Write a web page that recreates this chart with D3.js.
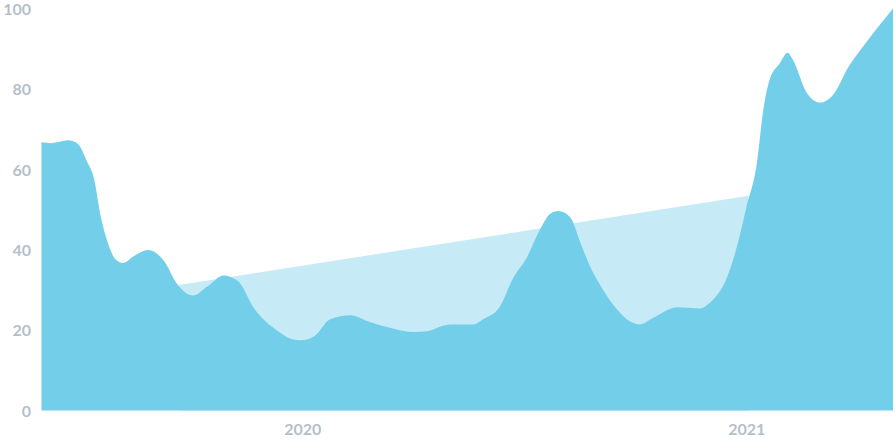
<!DOCTYPE html>
<html>
<head>
<meta charset="utf-8">
<script src="https://cdn.jsdelivr.net/npm/d3@7"></script>
<style>
  html, body { margin: 0; padding: 0; background: #ffffff; }
  svg { display: block; }
  .tick text { font-family: Lato, "Open Sans", sans-serif; font-weight: 700; fill: #b4bfcc; }
</style>
</head>
<body>
<svg id="chart" width="896" height="448"></svg>
<script>
// ---- data ----
const dates = [
  "2019-05-31","2019-06-08","2019-06-22","2019-06-30","2019-07-08","2019-07-13","2019-07-19","2019-07-25",
  "2019-07-31","2019-08-06","2019-08-15","2019-08-27","2019-09-09","2019-09-20","2019-10-03","2019-10-15",
  "2019-10-28","2019-11-09","2019-11-22","2019-12-12","2019-12-23","2019-12-31","2020-01-11","2020-01-24",
  "2020-02-10","2020-02-24","2020-03-14","2020-04-02","2020-04-13","2020-04-24","2020-05-02","2020-05-21",
  "2020-05-29","2020-06-12","2020-06-23","2020-07-04","2020-07-15","2020-07-23","2020-07-30","2020-08-09",
  "2020-08-17","2020-08-25","2020-09-04","2020-09-16","2020-09-27","2020-10-05","2020-10-16","2020-11-05",
  "2020-11-24","2020-12-02","2020-12-16","2020-12-24","2021-01-01","2021-01-10","2021-01-15","2021-01-20",
  "2021-01-29","2021-02-04","2021-02-08","2021-02-20","2021-03-03","2021-03-13","2021-03-27","2021-04-10",
  "2021-05-02"
];
const values = [
  66.7, 66.5, 67.2, 66.3, 61.6, 58.0, 48.0, 41.4,
  37.6, 36.7, 38.4, 39.9, 37.2, 31.4, 28.6, 30.9,
  33.6, 32.2, 25.5, 19.7, 17.8, 17.5, 18.5, 22.7,
  23.7, 22.2, 20.5, 19.5, 19.7, 20.9, 21.4, 21.4,
  22.7, 25.9, 33.0, 38.0, 45.0, 48.8, 49.6, 48.0,
  42.0, 36.0, 30.5, 25.3, 22.2, 21.4, 23.0, 25.7,
  25.4, 26.8, 33.0, 40.4, 50.4, 62.0, 74.6, 82.0,
  86.5, 89.0, 87.5, 79.0, 76.6, 78.3, 85.8, 91.6,
  100
];
const trendDates = ["2019-09-21", "2021-01-03"];
const trendValues = [31.2, 53.4];
const yTicks = [0, 20, 40, 60, 80, 100];
const xTickDates = ["2020-01-01", "2021-01-01"];
const xTickLabels = ["2020", "2021"];

// ---- drawing ----
const parse = d3.utcParse("%Y-%m-%d");
const svg = d3.select("#chart");

const x = d3.scaleUtc()
  .domain([parse("2019-05-31"), parse("2021-05-02")])
  .range([41.5, 893]);
const y = d3.scaleLinear().domain([0, 100]).range([410.5, 8.5]);

const series = dates.map((d, i) => ({ date: parse(d), value: values[i] }));
const trend = trendDates.map((d, i) => ({ date: parse(d), value: trendValues[i] }));

svg.append("path")
  .datum(trend)
  .attr("fill", "#c7ebf6")
  .attr("d", d3.area()
    .x(d => x(d.date))
    .y0(y(0))
    .y1(d => y(d.value))
    .curve(d3.curveLinear));

svg.append("path")
  .datum(series)
  .attr("fill", "#72cee9")
  .attr("d", d3.area()
    .x(d => x(d.date))
    .y0(y(0))
    .y1(d => y(d.value))
    .curve(d3.curveMonotoneX));

const yAxis = d3.axisLeft(y)
  .tickValues(yTicks)
  .tickSize(0)
  .tickPadding(0);
svg.append("g")
  .attr("transform", "translate(31,0)")
  .call(yAxis)
  .call(g => g.select(".domain").remove())
  .selectAll("text")
  .attr("font-size", 16)
  .attr("dy", "0.36em");

const xAxis = d3.axisBottom(x)
  .tickValues(xTickDates.map(parse))
  .tickFormat((d, i) => xTickLabels[i])
  .tickSize(0)
  .tickPadding(0);
svg.append("g")
  .attr("transform", "translate(0,429)")
  .call(xAxis)
  .call(g => g.select(".domain").remove())
  .selectAll("text")
  .attr("font-size", 16)
  .attr("dy", "0.36em");
</script>
</body>
</html>
